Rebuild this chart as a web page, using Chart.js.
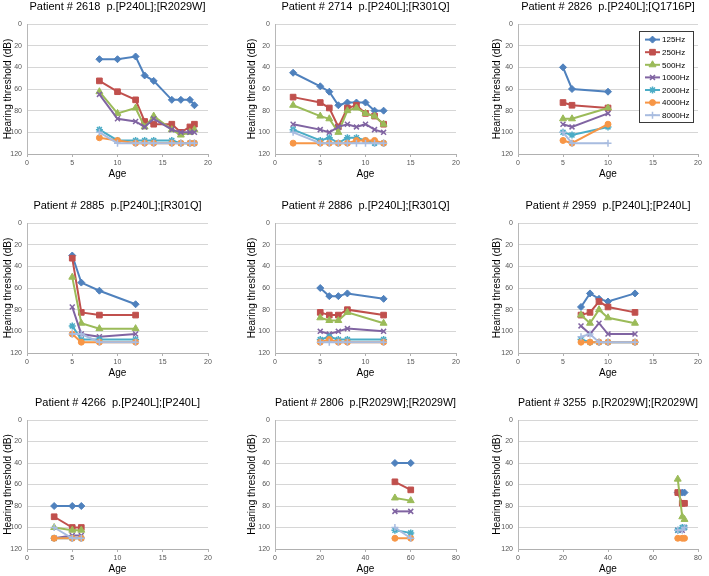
<!DOCTYPE html>
<html>
<head>
<meta charset="utf-8">
<script src="https://cdn.jsdelivr.net/npm/chart.js@4.4.1/dist/chart.umd.min.js"></script>
<style>
  body { margin: 0; background: #fff; width: 709px; height: 576px; overflow: hidden; position: relative; }
  canvas { position: absolute; }
</style>
</head>
<body>
<script>
// frequencies (series) shared by every panel
const freqLabels = ['125Hz', '250Hz', '500Hz', '1000Hz', '2000Hz', '4000Hz', '8000Hz'];

const titles = [
  'Patient # 2618  p.[P240L];[R2029W]',
  'Patient # 2714  p.[P240L];[R301Q]',
  'Patient # 2826  p.[P240L];[Q1716P]',
  'Patient # 2885  p.[P240L];[R301Q]',
  'Patient # 2886  p.[P240L];[R301Q]',
  'Patient # 2959  p.[P240L];[P240L]',
  'Patient # 4266  p.[P240L];[P240L]',
  'Patient # 2806  p.[R2029W];[R2029W]',
  'Patient # 3255  p.[R2029W];[R2029W]'
];

// x axis range per panel
const ageMax = [20, 20, 20, 20, 20, 20, 20, 80, 80];
const ageStep = [5, 5, 5, 5, 5, 5, 5, 20, 20];

// ages of each visit, one row of thresholds (dB) per frequency
const ages2618 = [8, 10, 12, 13, 14, 16, 17, 18, 18.5];
const db2618 = [
  [32.5, 32.5, 30, 47.5, 52.5, 70, 70, 70, 75],
  [52.5, 62.5, 70, 90, 92.5, 92.5, 100, 95, 92.5],
  [62.5, 82.5, 77.5, 95, 85, 97.5, 102.5, 100, 97.5],
  [65, 87.5, 90, 95, 87.5, 97.5, 100, 100, 100],
  [97.5, 107.5, 107.5, 107.5, 107.5, 107.5, 110, 110, 110],
  [105, 107.5, 110, 110, 110, 110, 110, 110, 110],
  [100, 110, 110, 110, 110, 110, 110, 110, 110]
];

const ages2714 = [2, 5, 6, 7, 8, 9, 10, 11, 12];
const db2714 = [
  [45, 57.5, 62.5, 75, 72.5, 72.5, 72.5, 80, 80],
  [67.5, 72.5, 77.5, 95, 77.5, 75, 82.5, 85, 92.5],
  [75, 85, 87.5, 100, 80, 77.5, 82.5, 85, 92.5],
  [92.5, 97.5, 100, 95, 92.5, 95, 92.5, 97.5, 100],
  [97.5, 107.5, 105, 110, 105, 105, 107.5, 110, 110],
  [110, 110, 110, 110, 110, 107.5, 107.5, 107.5, 110],
  [100, 110, 110, 110, 110, 110, 110, 110, 110]
];

const ages2826 = [5, 6, 10];
const db2826 = [
  [40, 60, 62.5],
  [72.5, 75, 77.5],
  [87.5, 87.5, 77.5],
  [92.5, 95, 82.5],
  [100, 102.5, 95],
  [107.5, 110, 92.5],
  [100, 110, 110]
];

const ages2885 = [5, 6, 8, 12];
const db2885 = [
  [30, 55, 62.5, 75],
  [32.5, 82.5, 85, 85],
  [50, 92.5, 97.5, 97.5],
  [77.5, 102.5, 105, 102.5],
  [95, 107.5, 107.5, 107.5],
  [102.5, 110, 110, 110],
  [102.5, 102.5, 110, 110]
];

const ages2886 = [5, 6, 7, 8, 12];
const db2886 = [
  [60, 67.5, 67.5, 65, 70],
  [82.5, 85, 85, 80, 85],
  [87.5, 90, 90, 82.5, 92.5],
  [100, 102.5, 100, 97.5, 100],
  [107.5, 105, 107.5, 107.5, 107.5],
  [110, 107.5, 110, 110, 110],
  [110, 110, 110, 110, 110]
];

const ages2959 = [7, 8, 9, 10, 13];
const db2959 = [
  [77.5, 65, 70, 72.5, 65],
  [85, 82.5, 72.5, 77.5, 82.5],
  [85, 92.5, 80, 87.5, 92.5],
  [95, 102.5, 92.5, 102.5, 102.5],
  [107.5, 110, 110, 110, 110],
  [110, 110, 110, 110, 110],
  [105, 102.5, 110, 110, 110]
];

const ages4266 = [3, 5, 6];
const db4266 = [
  [80, 80, 80],
  [90, 100, 100],
  [100, 102.5, 102.5],
  [110, 107.5, 107.5],
  [110, 110, 110],
  [110, 110, 110],
  [100, 110, 110]
];

const ages2806 = [53, 60];
const db2806 = [
  [40, 40],
  [57.5, 65],
  [72.5, 75],
  [85, 85],
  [102.5, 105],
  [110, 110],
  [100, 110]
];

const ages3255 = [71, 73, 74];
const db3255 = [
  [67.5, 67.5, 67.5],
  [67.5, 77.5, 77.5],
  [55, 90, 92.5],
  [102.5, 102.5, 100],
  [102.5, 100, 100],
  [110, 110, 110],
  [102.5, 102.5, 100]
];

const panelAges = [ages2618, ages2714, ages2826, ages2885, ages2886, ages2959, ages4266, ages2806, ages3255];
const panelDb = [db2618, db2714, db2826, db2885, db2886, db2959, db4266, db2806, db3255];

// styles
const colors = ['#4F81BD', '#C0504D', '#9BBB59', '#8064A2', '#4BACC6', '#F79646', '#A8BCE0'];
const markers = ['rectRot', 'rect', 'triangle', 'crossRot', 'star', 'circle', 'cross'];
const radii = [3.5, 4, 4, 3.5, 3.5, 3, 3.5];

// layout of the 3x3 grid
const colLeft = [0, 236, 472], colW = [236, 236, 237];
const padL = [0, 8, 17], yAxisW = [27, 31, 29], padR = [28, 16, 11];
const rowTop = [0, 199, 396], plotH = [130, 130, 129];

Chart.defaults.font.family = "'Liberation Sans', Arial, Helvetica, sans-serif";
Chart.defaults.color = '#000';

// boxed legend drawn inside the plot (only panel 3)
const boxLegend = {
  id: 'boxLegend',
  afterDatasetsDraw(chart, args, opts) {
    if (!opts.show) return;
    const { ctx, chartArea } = chart;
    const x = chartArea.right - 59, y = chartArea.top + 7, w = 54, h = 91;
    ctx.save();
    ctx.fillStyle = '#fff';
    ctx.fillRect(x, y, w, h);
    ctx.strokeStyle = '#3a3a3a';
    ctx.lineWidth = 1;
    ctx.strokeRect(x + 0.5, y + 0.5, w, h);
    chart.data.datasets.forEach((ds, i) => {
      const cy = y + 8.6 + i * 12.6;
      ctx.strokeStyle = ds.borderColor;
      ctx.lineWidth = 2;
      ctx.beginPath();
      ctx.moveTo(x + 6, cy);
      ctx.lineTo(x + 21, cy);
      ctx.stroke();
      ctx.fillStyle = ds.pointBackgroundColor;
      ctx.strokeStyle = ds.pointBorderColor;
      ctx.lineWidth = ds.pointBorderWidth;
      Chart.helpers.drawPoint(ctx, { pointStyle: ds.pointStyle, radius: ds.pointRadius, borderWidth: ds.pointBorderWidth, rotation: 0 }, x + 13.5, cy);
      ctx.fillStyle = '#000';
      ctx.font = "8px 'Liberation Sans', Arial, sans-serif";
      ctx.textBaseline = 'middle';
      ctx.textAlign = 'left';
      ctx.fillText(ds.label, x + 23, cy + 0.5);
    });
    ctx.restore();
  }
};

titles.forEach((title, i) => {
  const col = i % 3, row = Math.floor(i / 3);
  const W = colW[col], H = 24 + plotH[row] + 30;
  const cv = document.createElement('canvas');
  cv.width = W;
  cv.height = H;
  cv.style.left = colLeft[col] + 'px';
  cv.style.top = rowTop[row] + 'px';
  document.body.appendChild(cv);

  const datasets = freqLabels.map((lab, k) => ({
    label: lab,
    data: panelAges[i].map((a, j) => ({ x: a, y: panelDb[i][k][j] })),
    borderColor: colors[k],
    backgroundColor: colors[k],
    pointBackgroundColor: colors[k],
    pointBorderColor: colors[k],
    pointStyle: markers[k],
    pointRadius: radii[k],
    pointBorderWidth: (k === 3 || k === 4 || k === 6) ? 1.5 : 1,
    borderWidth: 2,
    tension: 0,
    order: 6 - k
  }));

  new Chart(cv, {
    type: 'line',
    data: { datasets },
    plugins: [boxLegend],
    options: {
      responsive: false,
      animation: false,
      devicePixelRatio: 1,
      layout: { padding: { left: padL[col], right: padR[col], top: 0, bottom: 0 } },
      plugins: {
        legend: { display: false },
        tooltip: { enabled: false },
        boxLegend: { show: i === 2 },
        title: {
          display: true,
          text: title,
          fullSize: false,
          color: '#000',
          font: { size: 11, weight: 'normal' },
          padding: { top: 0, bottom: 10.8 }
        }
      },
      scales: {
        x: {
          type: 'linear',
          min: 0,
          max: ageMax[i],
          afterFit: (s) => { s.height = 30; },
          ticks: { stepSize: ageStep[i], color: '#555', font: { size: 7 }, padding: 2, maxRotation: 0 },
          grid: { drawOnChartArea: false, drawTicks: true, tickLength: 3, color: '#b0b0b0' },
          border: { display: true, color: '#b0b0b0' },
          title: { display: true, text: 'Age', color: '#000', font: { size: 10 }, padding: { top: 0, bottom: 4 } }
        },
        y: {
          reverse: true,
          min: 0,
          max: 120,
          afterFit: (s) => { s.width = yAxisW[col]; },
          ticks: { stepSize: 20, color: '#555', font: { size: 7 }, padding: 5 },
          grid: { drawTicks: false, color: '#d6d6d6' },
          border: { display: true, color: '#b8b8b8' },
          title: { display: true, text: 'Hearing threshold (dB)', color: '#000', font: { size: 10 }, padding: { top: 2, bottom: 0 } }
        }
      }
    }
  });
});
</script>
</body>
</html>
